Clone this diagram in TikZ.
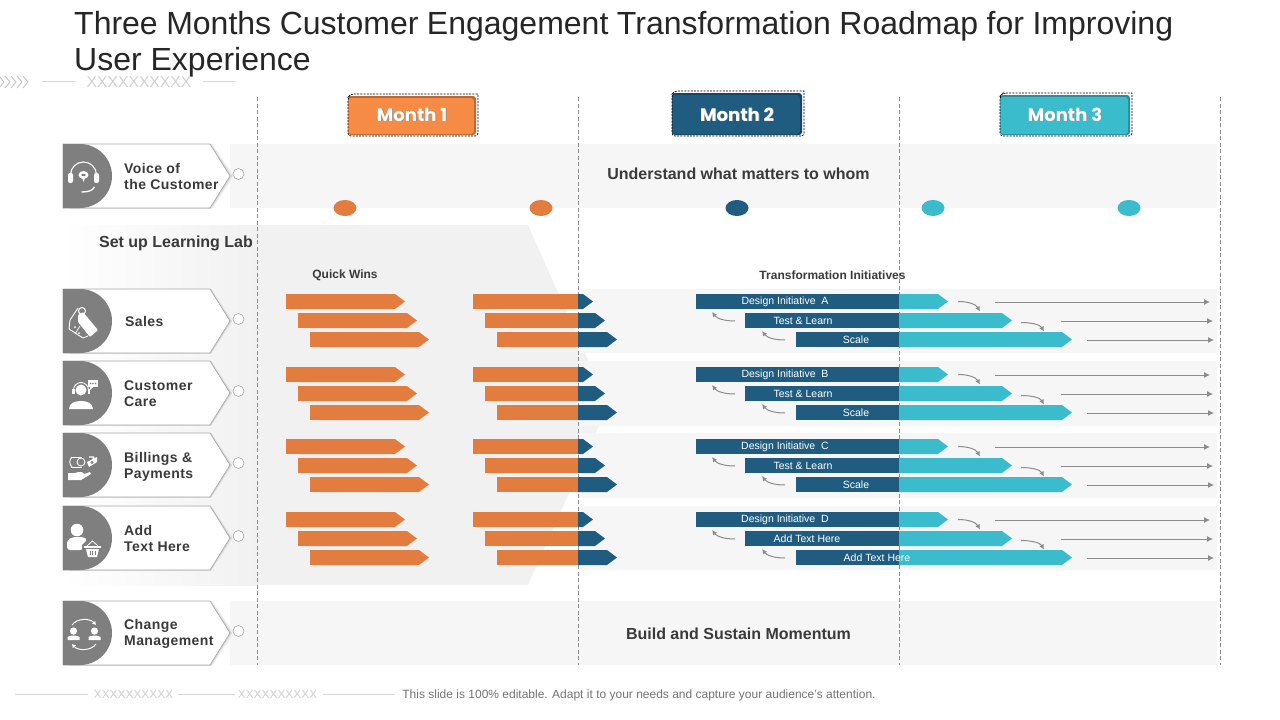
\documentclass[tikz,border=0pt]{standalone}
\usepackage{fontspec}
\setmainfont{Liberation Sans}
\newfontfamily\monthfont{Poppins}
\newfontfamily\tagfont[LetterSpace=3]{Liberation Sans}
\definecolor{cOr}{HTML}{E27D3F}
\definecolor{cOrB}{HTML}{F58B45}
\definecolor{cBl}{HTML}{1F5C7F}
\definecolor{cTe}{HTML}{3BBCCC}
\definecolor{cBand}{HTML}{F6F6F6}
\definecolor{cLab}{HTML}{F1F1F1}
\definecolor{cIc}{HTML}{7F7F7F}
\definecolor{cTx}{HTML}{3A3A3A}
\definecolor{cAr}{HTML}{8C8C8C}
\usetikzlibrary{arrows.meta}
\tikzset{
 band/.style={fill=cBand,draw=none},
 vdash/.style={draw=black!45,line width=.55pt,dash pattern=on 4pt off 2.5pt},
 taglabel/.style={font=\fontsize{14}{16}\tagfont\bfseries,text=cTx,align=left,anchor=west,inner sep=0pt},
 barlabel/.style={font=\fontsize{10.5}{12}\selectfont,text=white,inner sep=0pt},
 heading/.style={font=\fontsize{16}{18}\selectfont\bfseries,text=cTx,inner sep=0pt},
 subhead/.style={font=\fontsize{12}{14}\selectfont\bfseries,text=cTx,inner sep=0pt},
 monthlabel/.style={font=\fontsize{18}{20}\monthfont\bfseries,text=white,inner sep=0pt},
 longarrow/.style={draw=cAr,line width=.9pt,-{Latex[length=6pt,width=6pt]}},
 curvearrow/.style={draw=cAr,line width=1pt,-{Latex[length=5pt,width=5pt]}},
 xmark/.style={font=\fontsize{15.7}{17}\selectfont,text=black!18,inner sep=0pt},
 thin rule/.style={draw=black!15,line width=.6pt},
 ic/.style={fill=white,draw=none},
 icl/.style={draw=white,line width=1pt,fill=none},
}
\newcommand{\twobar}[6]{%
 \fill[#5] (#1,#4-7.5) rectangle (#2,#4+7.5);
 \fill[#6] (#2,#4-7.5) -- (#3-10,#4-7.5) -- (#3,#4) -- (#3-10,#4+7.5) -- (#2,#4+7.5) -- cycle;}
\newcommand{\tagshape}[2]{%
 \fill[black!6] (70,#1-31) -- (212,#1-32) -- (234,#1) -- (212,#1+33) -- (70,#1+33) -- cycle;
 \fill[black!16] (70,#1-31) -- (211,#1-32) -- (232,#1) -- (211,#1+32.5) -- (70,#1+32.5) -- cycle;
 \fill[white,draw=black!35,line width=.6pt] (63,#1-32) -- (210,#1-32) -- (230,#1) -- (210,#1+32) -- (63,#1+32) -- cycle;
 \fill[cIc] (63,#1-32) -- (80,#1-32) arc[start angle=-90,end angle=90,radius=32] -- (63,#1+32) -- cycle;
 \node[circle,fill=white,draw=black!35,line width=.6pt,minimum size=11pt,inner sep=0pt] (#2) at (238.5,#1-2) {};}
\newcommand{\monthbox}[5]{%
 \fill[#5!75!black,rounded corners=3pt] (#1,#2) rectangle (#3,#4);
 \fill[#5,rounded corners=3pt] (#1,#2+2) rectangle (#3-2,#4-1);
 \draw[black,line width=.7pt,dash pattern=on 2pt off 1.2pt] (#1+3,#2-2) -- (#3+2,#2-2) -- (#3+2,#4-4) [rounded corners=3pt] -- (#3+2,#4+1) -- (#1,#4+1) -- (#1,#2+1) -- cycle;
}
\begin{document}
\begin{tikzpicture}[x=1pt,y=-1pt]
\useasboundingbox (0,0) rectangle (1280,720);
\fill[white] (0,0) rectangle (1280,720);
% title
\node[anchor=north west,inner sep=0pt,align=left,font=\fontsize{32}{35.5}\selectfont,text=black!85] (title) at (74,11.5)
 {\makebox[1099pt][s]{Three Months Customer Engagement Transformation Roadmap for Improving}\\User Experience};
% top decoration
\foreach \q in {-1,5,11,17,23}{\draw[draw=black!25,line width=.8pt] (\q,76) -- (\q+5,82) -- (\q,88);}
\coordinate (tl1) at (42,81.5); \coordinate (tl2) at (76,81.5);
\coordinate (tl3) at (203,81.5); \coordinate (tl4) at (236,81.5);
\draw[thin rule] (tl1) -- (tl2); \draw[thin rule] (tl3) -- (tl4);
\node[xmark] (xtop) at (139,82) {XXXXXXXXXX};
% lab region
\shade[left color=white,right color=cLab] (63,225) rectangle (258,585);
\fill[cLab] (258,225) -- (528,225) -- (608,405) -- (528,585) -- (258,585) -- cycle;
% bands
\fill[band] (230,144) rectangle (1217,208);
\fill[band] (230,601) rectangle (1217,665);
\foreach \a/\b in {289/353,361/426,433/498,506/570}{\fill[band] (578,\a) rectangle (1217,\b);}
% vertical dashed lines
\foreach \n/\x in {a/257.5,b/578,c/899,d/1220}{
 \coordinate (vt\n) at (\x,97); \coordinate (vb\n) at (\x,665);
 \draw[vdash] (vt\n) -- (vb\n);}
% month boxes
\monthbox{348}{96}{476}{135}{cOrB}
\node[monthlabel,text=black!45] (m1s) at (412.7,115.2) {Month 1};
\node[monthlabel] (m1) at (412,114.5) {Month 1};
\monthbox{672}{93}{802}{135}{cBl}
\node[monthlabel,text=black!45] (m2s) at (737.7,115.2) {Month 2};
\node[monthlabel] (m2) at (737,114.5) {Month 2};
\monthbox{1000}{95}{1130}{135}{cTe}
\node[monthlabel,text=black!45] (m3s) at (1065.7,115.2) {Month 3};
\node[monthlabel] (m3) at (1065,114.5) {Month 3};
% timeline dots
\fill[cOr] (345,208) ellipse[x radius=11.5,y radius=8];
\fill[cOr] (541,208) ellipse[x radius=11.5,y radius=8];
\fill[cBl] (737,208) ellipse[x radius=11.5,y radius=8];
\fill[cTe] (933,208) ellipse[x radius=11.5,y radius=8];
\fill[cTe] (1129,208) ellipse[x radius=11.5,y radius=8];
% headings
\node[heading] (h1) at (738.5,174) {Understand what matters to whom};
\node[heading] (h2) at (738.5,634) {Build and Sustain Momentum};
\node[font=\fontsize{16}{18}\selectfont\bfseries,text=cTx,inner sep=0pt] (lab) at (176,243.5) {Set up Learning Lab};
\node[subhead] (qw) at (345,275) {Quick Wins};
\node[subhead] (ti) at (832.5,275) {Transformation Initiatives};
% tags
\tagshape{176}{t1}
\tagshape{321}{t2}
\tagshape{393}{t3}
\tagshape{465}{t4}
\tagshape{538}{t5}
\tagshape{633}{t6}
\node[taglabel] (l1) at (124,176) {Voice of\\the Customer};
\node[taglabel] (l2) at (125,321) {Sales};
\node[taglabel] (l3) at (124,393.5) {Customer\\Care};
\node[taglabel] (l4) at (124,466.5) {Billings \&\\Payments};
\node[taglabel] (l5) at (124,538) {Add\\Text Here};
\node[taglabel] (l6) at (124,633.5) {Change\\Management};
% bars per row
\foreach \r/\d/\ta/\tb/\tc/\pb/\pc in {
 1/0/Design Initiative\ \ A/Test \& Learn/Scale/803/856,
 2/73/Design Initiative\ \ B/Test \& Learn/Scale/803/856,
 3/145/Design Initiative\ \ C/Test \& Learn/Scale/803/856,
 4/218/Design Initiative\ \ D/Add Text Here/Add Text Here/807/877}{
 \pgfmathsetmacro{\ya}{301.5+\d}
 \pgfmathsetmacro{\yb}{320.5+\d}
 \pgfmathsetmacro{\yc}{339.5+\d}
 \twobar{286}{300}{405}{\ya}{cOr}{cOr}
 \twobar{298}{310}{417}{\yb}{cOr}{cOr}
 \twobar{310}{320}{429}{\yc}{cOr}{cOr}
 \twobar{473}{578}{593}{\ya}{cOr}{cBl}
 \twobar{485}{578}{605}{\yb}{cOr}{cBl}
 \twobar{497}{578}{617}{\yc}{cOr}{cBl}
 \twobar{696}{899}{948}{\ya}{cBl}{cTe}
 \twobar{745}{899}{1012}{\yb}{cBl}{cTe}
 \twobar{796}{899}{1072}{\yc}{cBl}{cTe}
 \node[barlabel] (d\r a) at (785,\ya) {\ta};
 \node[barlabel] (d\r b) at (\pb,\yb) {\tb};
 \node[barlabel] (d\r c) at (\pc,\yc) {\tc};
 \coordinate (s\r a) at (995,\ya+.5); \coordinate (e\r a) at (1210,\ya+.5);
 \coordinate (s\r b) at (1061,\yb+.5); \coordinate (e\r b) at (1213,\yb+.5);
 \coordinate (s\r c) at (1087,\yc+.5); \coordinate (e\r c) at (1214,\yc+.5);
 \draw[longarrow] (s\r a) -- (e\r a);
 \draw[longarrow] (s\r b) -- (e\r b);
 \draw[longarrow] (s\r c) -- (e\r c);
 \coordinate (p\r a) at (958,\ya); \coordinate (q\r a) at (980,\ya+10);
 \coordinate (p\r b) at (1021,\yb+2); \coordinate (q\r b) at (1044,\yb+11);
 \draw[curvearrow] (p\r a) .. controls (969,\ya) and (976,\ya+3) .. (q\r a);
 \draw[curvearrow] (p\r b) .. controls (1031,\yb+2) and (1040,\yb+4) .. (q\r b);
 \coordinate (u\r a) at (735,\yb+.5); \coordinate (v\r a) at (712,\yb-8.5);
 \coordinate (u\r b) at (785,\yc+.5); \coordinate (v\r b) at (762,\yc-8.5);
 \draw[curvearrow] (u\r a) .. controls (724,\yb+.5) and (717,\yb-2) .. (v\r a);
 \draw[curvearrow] (u\r b) .. controls (774,\yc+.5) and (767,\yc-2) .. (v\r b);
}
% headset
\begin{scope}[shift={(83.5,176)}]
 \draw[icl,line width=1.1pt] (-13,-1) arc[start angle=180,end angle=360,radius=13];
 \fill[ic,rounded corners=2pt] (-15.5,-3) rectangle (-10.5,7);
 \fill[ic,rounded corners=2pt] (10.5,-3) rectangle (15.5,7);
 \draw[icl,line width=1.3pt] (-2,16) .. controls (4,16) and (9,15) .. (11,11);
 \fill[ic] (0,-1) ellipse[x radius=5,y radius=4];
 \fill[ic] (-1.5,1) -- (2,1) -- (0,6) -- cycle;
 \fill[cIc] (0,-1) ellipse[x radius=2.2,y radius=1.2];
\end{scope}
% price tags
\begin{scope}[shift={(83,323)}]
 \draw[icl,line join=round,line width=.9pt] (-5,-15) -- (-13,-3) -- (-14,6) -- (0,15) -- (5,13);
 \fill[ic,rounded corners=1pt] (0,-11) -- (15,7) -- (7,14) -- (-5,-1) -- (-5,-8) -- cycle;
 \draw[icl,line width=1pt] (-1,-12) circle[radius=3.5];
 \fill[ic] (-8,4) circle[radius=1];
 \fill[ic] (-4,10) circle[radius=1];
 \draw[icl,line width=.7pt] (-3,3) -- (-8,11);
\end{scope}
% customer care
\begin{scope}[shift={(81,395)}]
 \fill[ic] (0,-5) circle[radius=5.5];
 \draw[icl,line width=.9pt] (-7.5,-5) arc[start angle=180,end angle=360,radius=7.5];
 \fill[ic] (-9,-6) rectangle (-6.5,-1);
 \fill[ic] (6.5,-6) rectangle (9,-1);
 \fill[ic] (-12,14) .. controls (-12,8) and (-6,6) .. (0,6) .. controls (6,6) and (12,8) .. (12,14) -- cycle;
 \fill[ic] (7,-15) rectangle (17,-8);
 \fill[ic] (9,-8) -- (12,-8) -- (9,-5) -- cycle;
 \foreach \q in {9.5,12,14.5}{\fill[cIc] (\q,-11.5) circle[radius=.8];}
\end{scope}
% money in hand
\begin{scope}[shift={(84,465)}]
 \draw[icl,line width=.9pt] (-13,-8) -- (-2,-8) (-13,2) -- (-2,2);
 \draw[icl,line width=.9pt] (-12,-8) .. controls (-15,-5) and (-15,-1) .. (-12,2);
 \draw[icl,line width=.9pt] (-3,-3) circle[radius=4];
 \fill[ic] (3,-3) -- (13,-8) -- (13,-3) -- (5,2) -- cycle;
 \draw[icl,line width=1.2pt] (5,-8) -- (10,-8) (10,-8) -- (8,-4);
 \fill[cIc] (8,-2.5) circle[radius=1.6];
 \fill[ic] (-16,8) -- (-9,8) .. controls (-4,6) and (-1,7) .. (0,9) -- (6,7) -- (7,9) -- (-3,15) -- (-16,15) -- cycle;
\end{scope}
% person with basket
\begin{scope}[shift={(81,537)}]
 \fill[ic] (-4,-7) circle[radius=6.3];
 \fill[ic,rounded corners=3pt] (-14,13) -- (-14,3) -- (-8,0) -- (3,0) -- (6,3) -- (2,13) -- cycle;
 \fill[cIc] (1,8) -- (9,0) -- (20,0) -- (21,21) -- (1,21) -- cycle;
 \fill[ic] (3,9) -- (20,9) -- (20,11) -- (3,11) -- cycle;
 \fill[ic] (5,12) -- (18,12) -- (16,20) -- (7,20) -- cycle;
 \draw[icl,line width=.8pt] (6,9) -- (11.5,4) -- (17,9);
 \foreach \q in {9,11.5,14}{\draw[draw=cIc,line width=.8pt] (\q,13.5) -- (\q,18);}
\end{scope}
% change
\begin{scope}[shift={(84,633)}]
 \foreach \q in {-10.5,10.5}{
  \fill[ic] (\q,-2) circle[radius=3.6];
  \fill[ic] (\q-6,7) -- (\q-6,4) .. controls (\q-4,2) and (\q+4,2) .. (\q+6,4) -- (\q+6,7) -- cycle;
 }
 \draw[icl,line width=1pt,-{Latex[length=3.5pt,width=4.5pt]}] (-12,-8) .. controls (-7,-15) and (6,-15) .. (12,-8);
 \draw[icl,line width=1pt,-{Latex[length=3.5pt,width=4.5pt]}] (12,11) .. controls (7,18) and (-6,18) .. (-12,11);
\end{scope}
% bottom decoration
\coordinate (b1) at (15,694.5); \coordinate (b2) at (88,694.5);
\coordinate (b3) at (178,694.5); \coordinate (b4) at (235,694.5);
\coordinate (b5) at (323,694.5); \coordinate (b6) at (395,694.5);
\draw[thin rule] (b1) -- (b2); \draw[thin rule] (b3) -- (b4); \draw[thin rule] (b5) -- (b6);
\node[xmark,font=\fontsize{11.9}{13}\selectfont] (xb1) at (133.5,694.5) {XXXXXXXXXX};
\node[xmark,font=\fontsize{11.9}{13}\selectfont] (xb2) at (277.5,694.5) {XXXXXXXXXX};
\node[font=\fontsize{12}{14}\selectfont,text=black!55,inner sep=0pt] (foot) at (639,695.5) {This slide is 100\% editable. Adapt it to your needs and capture your audience's attention.};
\end{tikzpicture}
\end{document}
